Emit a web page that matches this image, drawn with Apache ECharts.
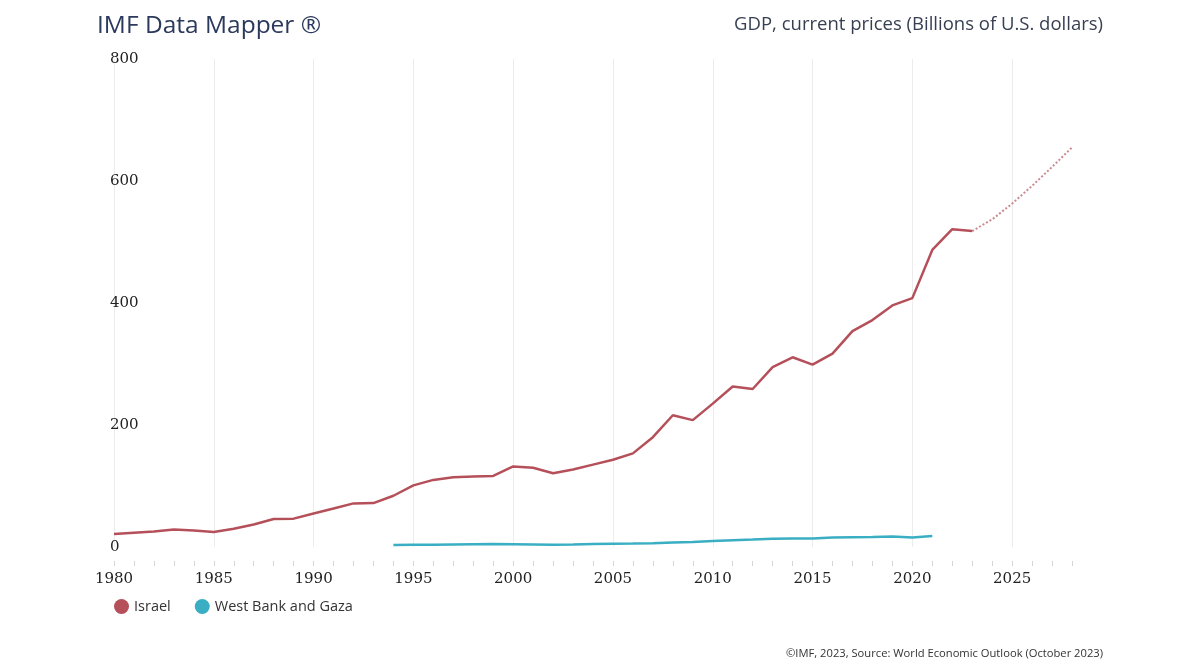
<!DOCTYPE html>
<html>
<head>
<meta charset="utf-8">
<script src="https://cdn.jsdelivr.net/npm/echarts@6/dist/echarts.min.js"></script>
<style>html,body{margin:0;padding:0;background:#fff}#c{width:1200px;height:667px}</style>
</head>
<body>
<div id="c"></div>
<script>
const years = [];
for (let y = 1980; y <= 2028; y++) years.push(String(y));

// Israel GDP, actual 1980-2023 (billions USD)
const israelActual = [21.5, 23.5, 25.5, 28.5, 27, 24.5, 30, 37, 46, 46.5,
  55, 63, 71.5, 72, 84, 101, 110, 114.5, 115.5, 116.5,
  132, 130, 121, 127, 135, 143, 153.5, 180, 216, 208,
  235, 263, 259, 295, 311, 299, 317, 354, 372, 396,
  408, 487, 521, 518];
// Israel projections 2023-2028
const israelProjYears = [2023, 2024, 2025, 2026, 2027, 2028];
const israelProj = [518, 537, 563, 592, 623, 655];
// West Bank and Gaza 1994-2021
const wbgStart = 1994;
const wbg = [3.2, 3.6, 3.8, 4.2, 4.6, 4.8, 4.6, 4.3, 3.6, 4.0,
  4.8, 5.4, 5.6, 6.0, 7.3, 8.1, 9.7, 11.2, 12.2, 13.5,
  14.0, 14.0, 15.4, 16.1, 16.3, 17.1, 15.5, 18.1];

const yTicks = [0, 200, 400, 600, 800];

function seriesFor(startYear, vals) {
  return years.map(y => {
    const i = Number(y) - startYear;
    return (i >= 0 && i < vals.length) ? vals[i] : null;
  });
}

const israelColor = '#b5505a';
const wbgColor = '#3aaec3';

const chart = echarts.init(document.getElementById('c'));
chart.setOption({
  backgroundColor: '#fff',
  animation: false,
  title: [
    { text: 'IMF Data Mapper ®', left: 92, top: 9,
      textStyle: { fontFamily: 'Open Sans', fontSize: 24.5, fontWeight: 'normal', color: '#2b3a5c' } },
    { text: 'GDP, current prices (Billions of U.S. dollars)', right: 92, top: 10,
      textStyle: { fontFamily: 'Open Sans', fontSize: 18.5, fontWeight: 'normal', color: '#363f52' } },
    { text: '©IMF, 2023, Source: World Economic Outlook (October 2023)', right: 92, top: 643,
      textStyle: { fontFamily: 'Open Sans', fontSize: 11.2, fontWeight: 'normal', color: '#333' } }
  ],
  legend: {
    left: 109, top: 594,
    icon: 'circle', itemWidth: 15, itemHeight: 15, itemGap: 24,
    textStyle: { fontFamily: 'Open Sans', fontSize: 14.5, color: '#333' },
    data: [
      { name: 'Israel', itemStyle: { color: israelColor } },
      { name: 'West Bank and Gaza', itemStyle: { color: wbgColor } }
    ]
  },
  grid: { left: 114, right: 128, top: 59, bottom: 120, containLabel: false },
  xAxis: {
    type: 'category', data: years, boundaryGap: false, offset: 14,
    axisLine: { show: false, onZero: false },
    axisTick: { show: true, interval: 0, length: 5, lineStyle: { color: '#d6d6d6' } },
    axisLabel: { interval: 4, margin: 11, fontFamily: 'DejaVu Serif', fontSize: 15, color: '#222' },
    splitLine: { show: true, interval: 4, lineStyle: { color: '#ececec', width: 1 } }
  },
  yAxis: {
    type: 'value', min: yTicks[0], max: yTicks[yTicks.length - 1], interval: 200,
    axisLine: { show: false }, axisTick: { show: false },
    splitLine: { show: false },
    axisLabel: { align: 'left', margin: 4, fontFamily: 'DejaVu Serif', fontSize: 15, color: '#222' }
  },
  series: [
    { name: 'Israel', type: 'line', data: seriesFor(1980, israelActual), showSymbol: false,
      lineStyle: { color: israelColor, width: 2.5 }, itemStyle: { color: israelColor }, z: 3 },
    { name: 'Israel', type: 'line', data: seriesFor(israelProjYears[0], israelProj), showSymbol: false,
      lineStyle: { color: '#c98a90', width: 2, type: [2, 2] }, itemStyle: { color: israelColor }, z: 2 },
    { name: 'West Bank and Gaza', type: 'line', data: seriesFor(wbgStart, wbg), showSymbol: false,
      lineStyle: { color: wbgColor, width: 2.5 }, itemStyle: { color: wbgColor }, z: 3 }
  ]
});
</script>
</body>
</html>
